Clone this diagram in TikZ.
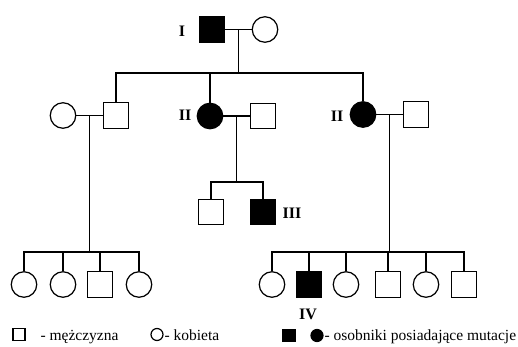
\documentclass[tikz,border=0pt]{standalone}
\usepackage{fontspec}
\setmainfont{Liberation Serif}
\usetikzlibrary{calc}
\begin{document}
\begin{tikzpicture}[x=1pt,y=-1pt, line width=1.2pt,
  male/.style={draw, rectangle, minimum size=25.5pt, inner sep=0pt},
  female/.style={draw, circle, minimum size=25.5pt, inner sep=0pt},
  aff/.style={fill=black},
  gen/.style={font=\fontsize{16}{16}\selectfont\bfseries, inner sep=0pt},
  leg/.style={font=\fontsize{15.5}{15.5}\selectfont, inner sep=0pt, anchor=base west},
  legm/.style={draw, rectangle, minimum size=12pt, inner sep=0pt},
  legf/.style={draw, circle, minimum size=12pt, inner sep=0pt}]
\useasboundingbox (0,0) rectangle (518,347);
% generation I
\node[male,aff] (A) at (212,29.5) {};
\node[female] (B) at (265,29.5) {};
\node[gen] (lI) at (182,31) {I};
% generation II
\node[female] (C) at (63,115.5) {};
\node[male] (D) at (116,115.5) {};
\node[female,aff] (E) at (210,116) {};
\node[male] (F) at (263,116) {};
\node[female,aff] (G) at (363,114.5) {};
\node[male] (H) at (416,114.5) {};
\node[gen] (lII1) at (185,115.5) {II};
\node[gen] (lII2) at (337,116) {II};
% generation III (middle)
\node[male] (J) at (211,212) {};
\node[male,aff] (K) at (263,212) {};
\node[gen] (lIII) at (292,213) {III};
% bottom left
\node[female] (L1) at (24,284.5) {};
\node[female] (L2) at (63,284.5) {};
\node[male] (L3) at (100,284.5) {};
\node[female] (L4) at (139,284.5) {};
% bottom right
\node[female] (R1) at (272,284.5) {};
\node[male,aff] (R2) at (309,284.5) {};
\node[female] (R3) at (346,284.5) {};
\node[male] (R4) at (388,284.5) {};
\node[female] (R5) at (426,284.5) {};
\node[male] (R6) at (464,284.5) {};
\node[gen] (lIV) at (308,314) {IV};
% couple lines and drops
\coordinate (ab) at ($(A.east)!0.5!(B.west)$);
\coordinate (s2) at (238,73);
\draw (A) -- (B);
\draw (ab) -- (ab |- s2);
\draw (D.north) -- (D.north |- s2) -- (G.north |- s2) -- (G.north);
\draw (E.north) -- (E.north |- s2);
\coordinate (cd) at ($(C.east)!0.5!(D.west)$);
\coordinate (sL) at (88,252);
\draw (C) -- (D);
\draw (cd) -- (cd |- sL);
\draw (L1.north) -- (L1.north |- sL) -- (L4.north |- sL) -- (L4.north);
\draw (L2.north) -- (L2.north |- sL);
\draw (L3.north) -- (L3.north |- sL);
\coordinate (ef) at ($(E.east)!0.5!(F.west)$);
\coordinate (sM) at (238,182);
\draw (E) -- (F);
\draw (ef) -- (ef |- sM);
\draw (J.north) -- (J.north |- sM) -- (K.north |- sM) -- (K.north);
\coordinate (gh) at ($(G.east)!0.5!(H.west)$);
\coordinate (sR) at (389,252);
\draw (G) -- (H);
\draw (gh) -- (gh |- sR);
\draw (R1.north) -- (R1.north |- sR) -- (R6.north |- sR) -- (R6.north);
\draw (R2.north) -- (R2.north |- sR);
\draw (R3.north) -- (R3.north |- sR);
\draw (R4.north) -- (R4.north |- sR);
\draw (R5.north) -- (R5.north |- sR);
% legend
\node[legm] (km) at (19,334.5) {};
\node[leg] (tm) at (40,340) {- mężczyzna};
\node[legf] (kf) at (157,334.5) {};
\node[leg] (tf) at (164,340) {- kobieta};
\node[legm,aff] (ka) at (289,335.5) {};
\node[legf,aff] (kb) at (317,335.5) {};
\node[leg] (ta) at (324,340) {- osobniki posiadające mutacje};
\end{tikzpicture}
\end{document}
